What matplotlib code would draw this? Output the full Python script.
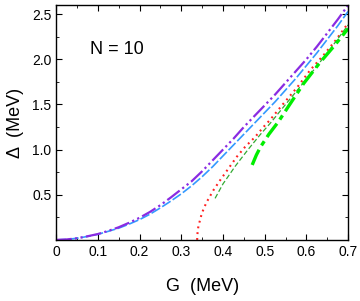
import numpy as np
import matplotlib
matplotlib.use("Agg")
import matplotlib.pyplot as plt
from matplotlib.ticker import MultipleLocator

plt.rcParams['font.family'] = ['Liberation Sans', 'DejaVu Sans']

# purple dash-dot-dot curve
g_purple = [0.0, 0.025, 0.05, 0.075, 0.1, 0.125, 0.15, 0.175, 0.2, 0.225, 0.25, 0.275, 0.3, 0.325,
            0.35, 0.375, 0.4, 0.425, 0.45, 0.475, 0.5, 0.525, 0.55, 0.575, 0.6, 0.625, 0.65, 0.675, 0.7]
d_purple = [0.0, 0.005, 0.018, 0.04, 0.065, 0.10, 0.14, 0.19, 0.245, 0.31, 0.385, 0.47, 0.56, 0.65,
            0.76, 0.88, 1.00, 1.12, 1.25, 1.37, 1.49, 1.61, 1.74, 1.87, 2.00, 2.14, 2.29, 2.44, 2.60]

# blue dashed curve
g_blue = [0.0, 0.025, 0.05, 0.075, 0.1, 0.125, 0.15, 0.175, 0.2, 0.225, 0.25, 0.275, 0.3, 0.325,
          0.35, 0.375, 0.4, 0.425, 0.45, 0.475, 0.5, 0.525, 0.55, 0.575, 0.6, 0.625, 0.65, 0.675, 0.7]
d_blue = [0.0, 0.005, 0.018, 0.038, 0.062, 0.095, 0.13, 0.175, 0.225, 0.285, 0.355, 0.43, 0.51, 0.60,
          0.70, 0.81, 0.93, 1.05, 1.17, 1.29, 1.41, 1.53, 1.66, 1.79, 1.93, 2.07, 2.22, 2.37, 2.53]

# red dotted curve
g_red = [0.338, 0.339, 0.341, 0.345, 0.349, 0.355, 0.361, 0.377, 0.393, 0.413, 0.433, 0.453, 0.477,
         0.497, 0.513, 0.545, 0.578, 0.609, 0.64, 0.67, 0.70]
d_red = [0.0, 0.08, 0.15, 0.22, 0.29, 0.36, 0.42, 0.55, 0.66, 0.79, 0.92, 1.03, 1.14,
         1.25, 1.33, 1.51, 1.69, 1.88, 2.04, 2.21, 2.40]

# thin green dashed curve
g_green = [0.381, 0.40, 0.43, 0.46, 0.49, 0.513, 0.55, 0.60, 0.65, 0.70]
d_green = [0.46, 0.62, 0.82, 1.00, 1.17, 1.29, 1.50, 1.78, 2.07, 2.38]

# thick green dash-dot curve
g_lime = [0.47, 0.48, 0.49, 0.51, 0.533, 0.56, 0.593, 0.63, 0.665, 0.70]
d_lime = [0.83, 0.94, 1.03, 1.17, 1.31, 1.50, 1.73, 1.95, 2.14, 2.34]

fig = plt.figure(figsize=(3.6, 3.01), dpi=100)
ax = fig.add_axes([0.156, 0.203, 0.811, 0.780])

ax.plot(g_blue, d_blue, color='#3399ff', lw=1.2, dashes=(6, 1.5))
ax.plot(g_purple, d_purple, color='#8a2be2', lw=1.6, dashes=(7, 1.5, 1, 1.5, 1, 1.5))
ax.plot(g_red, d_red, color='#ff2020', lw=1.5, dashes=(0.9, 1.9))
ax.plot(g_green, d_green, color='#33aa33', lw=0.9, dashes=(4, 2))
ax.plot(g_lime, d_lime, color='#00ee00', lw=2.4, dashes=(5, 1.5, 1.5, 1.5))

ax.set_xlim(0, 0.7)
ax.set_ylim(0, 2.6)
ax.xaxis.set_major_locator(MultipleLocator(0.1))
ax.xaxis.set_minor_locator(MultipleLocator(0.05))
ax.yaxis.set_major_locator(MultipleLocator(0.5))
ax.yaxis.set_minor_locator(MultipleLocator(0.25))
ax.set_xticks([0, 0.1, 0.2, 0.3, 0.4, 0.5, 0.6, 0.7])
ax.set_xticklabels(['0', '0.1', '0.2', '0.3', '0.4', '0.5', '0.6', '0.7'])
ax.set_yticks([0.5, 1.0, 1.5, 2.0, 2.5])
ax.set_yticklabels(['0.5', '1.0', '1.5', '2.0', '2.5'])
ax.tick_params(which='both', direction='in', top=True, right=True, labelsize=10)
ax.tick_params(which='major', length=4)
ax.tick_params(which='minor', length=2.5)
for s in ax.spines.values():
    s.set_linewidth(1.0)

ax.text(0.082, 2.06, 'N = 10', fontsize=13)
ax.set_xlabel('G  (MeV)', fontsize=13, labelpad=14)
ax.set_ylabel('Δ  (MeV)', fontsize=13, labelpad=6)

fig.savefig('out.png', dpi=100)
